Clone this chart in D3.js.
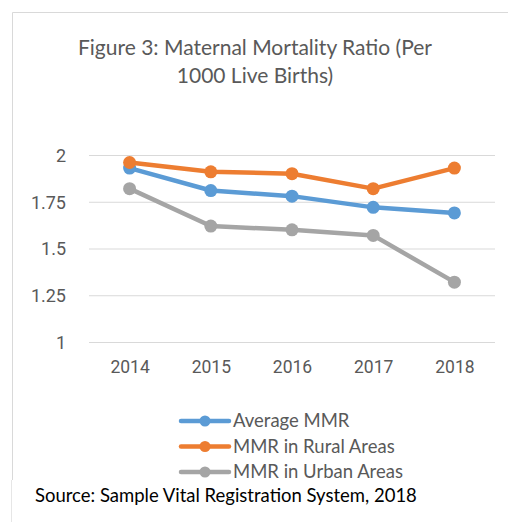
<!DOCTYPE html>
<html><head><meta charset="utf-8">
<script src="https://cdn.jsdelivr.net/npm/d3@7"></script>
<style>body{margin:0;background:#fff}svg{display:block}</style>
</head><body>
<svg id="c" width="508" height="522"></svg>
<script>
const years = ["2014","2015","2016","2017","2018"];
const avgMMR = [1.93, 1.81, 1.78, 1.72, 1.69];
const ruralMMR = [1.96, 1.91, 1.90, 1.82, 1.93];
const urbanMMR = [1.82, 1.62, 1.60, 1.57, 1.32];
const seriesNames = ["Average MMR","MMR in Rural Areas","MMR in Urban Areas"];
const yTicks = [1, 1.25, 1.5, 1.75, 2];
const titleLines = ["Figure 3: Maternal Mortality Ratio (Per","1000 Live Births)"];
const sourceText = "Source: Sample Vital Registration System, 2018";

const colors = ["#5B9BD5","#ED7D31","#A5A5A5"];
const series = [avgMMR, ruralMMR, urbanMMR].map((v,i)=>({name:seriesNames[i], values:v, color:colors[i]}));

const svg = d3.select("#c");
const textCol = "#595959";
const font = "Roboto, 'Open Sans', sans-serif";
const tfont = "Lato, 'Open Sans', sans-serif";

// chart border
svg.append("path").attr("d","M520,12.5 H12.5 V480").attr("fill","none").attr("stroke","#D9D9D9").attr("stroke-width",1);
svg.append("line").attr("x1",11.5).attr("x2",11.5).attr("y1",480).attr("y2",522).attr("stroke","#E6E6E6");

const x = d3.scalePoint().domain(years).range([89,495]).padding(0.5);
const y = d3.scaleLinear().domain([1,2]).range([342,155]);

function fit(sel, w){ const n=sel.node(); let fs=parseFloat(sel.attr("font-size")); const cw=n.getComputedTextLength(); if(cw>0) sel.attr("font-size", fs*w/cw); }

// title
const t1 = svg.append("text").attr("x",255).attr("y",55).attr("text-anchor","middle").attr("font-family",tfont).attr("font-size",21).attr("fill",textCol).text(titleLines[0]);
fit(t1,354);
svg.append("text").attr("x",255).attr("y",83).attr("text-anchor","middle").attr("font-family",tfont).attr("font-size",t1.attr("font-size")).attr("fill",textCol).text(titleLines[1]);

// gridlines + y axis
const yAxis = d3.axisLeft(y).tickValues(yTicks).tickSize(-(495-89)).tickFormat(d=>d3.format("")(d)).tickPadding(23);
const ga = svg.append("g").attr("transform","translate(89,0)").call(yAxis);
ga.select(".domain").remove();
ga.selectAll(".tick line").attr("stroke","#D9D9D9").attr("stroke-width",1);
ga.selectAll(".tick text").attr("fill",textCol).attr("font-family",font).attr("font-size",18).attr("dy","0.36em");

const xAxis = d3.axisBottom(x).tickSize(0).tickPadding(0);
const gx = svg.append("g").attr("transform","translate(0,361)").call(xAxis);
gx.select(".domain").remove();
gx.selectAll(".tick text").attr("fill",textCol).attr("font-family",font).attr("font-size",17.5).attr("dy","0.71em");

// lines
const line = d3.line().x((d,i)=>x(years[i])).y(d=>y(d));
[2,0,1].forEach(k=>{
  const s = series[k];
  const g = svg.append("g");
  g.append("path").attr("d",line(s.values)).attr("fill","none").attr("stroke",s.color).attr("stroke-width",4.5).attr("stroke-linejoin","round").attr("stroke-linecap","round");
  g.selectAll("circle").data(s.values).join("circle").attr("cx",(d,i)=>x(years[i])).attr("cy",d=>y(d)).attr("r",6.5).attr("fill",s.color);
});

// legend
let legFs = null;
series.forEach((s,i)=>{
  const ly = 421 + i*25.5;
  const g = svg.append("g");
  g.append("line").attr("x1",181).attr("x2",229).attr("y1",ly).attr("y2",ly).attr("stroke",s.color).attr("stroke-width",4.5).attr("stroke-linecap","round");
  g.append("circle").attr("cx",205).attr("cy",ly).attr("r",5.5).attr("fill",s.color);
  const t = g.append("text").attr("class","leg").attr("x",233).attr("y",ly).attr("dy","0.35em").attr("font-family",tfont).attr("font-size",18).attr("fill",textCol).text(s.name);
  if(i===2){ fit(t,170); legFs = t.attr("font-size"); }
});
svg.selectAll("text.leg").attr("font-size",legFs);

// source
const src = svg.append("text").attr("x",35).attr("y",502).attr("font-family",tfont).attr("font-size",17).attr("fill","#000").text(sourceText);
fit(src,382);
</script>
</body></html>
